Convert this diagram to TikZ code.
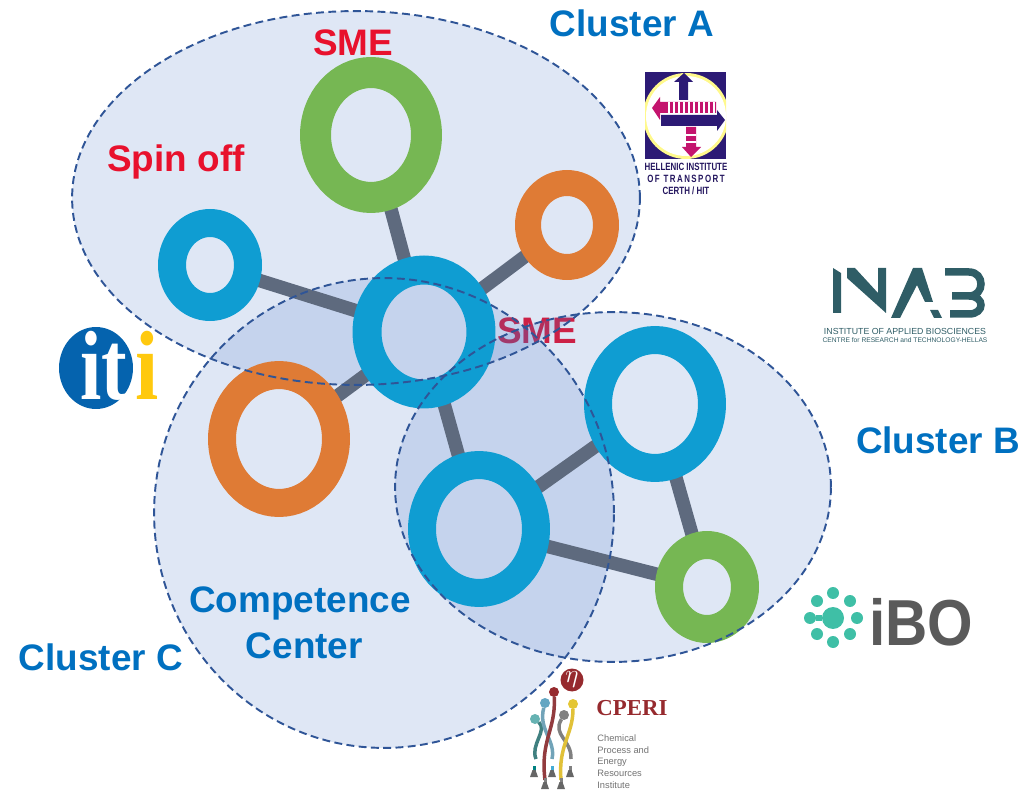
\documentclass[tikz,border=0pt]{standalone}
\usepackage{fontspec}
\setmainfont{Liberation Sans}
\newfontfamily\serifname{Liberation Serif}
\usetikzlibrary{shapes.geometric,backgrounds}

\definecolor{labelblue}{HTML}{0070C0}
\definecolor{labelred}{HTML}{E8112D}
\definecolor{bubbleblue}{HTML}{4472C4}
\definecolor{bubbleline}{HTML}{2F5597}
\definecolor{ringblue}{HTML}{0F9DD2}
\definecolor{ringgreen}{HTML}{76B753}
\definecolor{ringorange}{HTML}{DF7B35}
\definecolor{linkgray}{HTML}{5E6A7E}
\definecolor{hitpurple}{HTML}{2C1A75}
\definecolor{hitpink}{HTML}{C4146E}
\definecolor{inabteal}{HTML}{2F5D66}
\definecolor{ibogreen}{HTML}{3FBFA6}
\definecolor{ibogray}{HTML}{5A5A5A}
\definecolor{cperired}{HTML}{962A2E}
\definecolor{itiblue}{HTML}{0563AE}
\definecolor{itiyellow}{HTML}{FFC90E}

\tikzset{
	ring/.style={ellipse, draw, inner sep=0pt, outer sep=0pt},
	bubble/.style={ellipse, inner sep=0pt, outer sep=0pt},
	biglabel/.style={font=\fontsize{21}{25}\selectfont\bfseries, text=labelblue, inner sep=0pt},
	redlabel/.style={font=\fontsize{21}{25}\selectfont\bfseries, text=labelred, inner sep=0pt},
	link/.style={draw=linkgray, line width=0.27cm},
	dot/.style={circle, inner sep=0pt, outer sep=0pt},
	smalltext/.style={inner sep=0pt, transform shape},
	hittext/.style={smalltext, font=\fontsize{6}{7}\selectfont\bfseries, text=hitpurple!80!black},
	cperiline/.style={line width=0.07cm}
}

\begin{document}
\begin{tikzpicture}[x=0.02cm, y=-0.02cm]
	\useasboundingbox (0,0) rectangle (1028,790);

	% Rings of the network
	\foreach \name/\cx/\cy/\col/\rx/\ry/\wd in {
		greentop/371/135/ringgreen/55.5/62.5/31,
		orangeright/567/225/ringorange/39/42/26,
		blueleft/210/265/ringblue/38/42/28,
		bluecenter/424/332/ringblue/57/62/29,
		orangeleft/279/439/ringorange/57/64/28,
		bluelower/479/529/ringblue/57/64/28,
		blueright/655/404/ringblue/57/64/28,
		greenlower/707/587/ringgreen/38/42/28} {
			\node[ring, draw=\col, line width=\wd*0.02cm, minimum width=\rx*0.04cm, minimum height=\ry*0.04cm] (\name) at (\cx,\cy) {};
		}

	% Cluster fills and links go behind the rings
	\begin{scope}[on background layer]
		\node[redlabel] (smemiddle) at (537,331) {SME};
		\foreach \name/\cx/\cy/\rx/\ry in {clusterfilla/356/198/284/187, clusterfillb/613/487/218/175, clusterfillc/384/513/230/235} {
				\node[bubble, fill=bubbleblue, fill opacity=0.17, minimum width=\rx*0.04cm, minimum height=\ry*0.04cm] (\name) at (\cx,\cy) {};
			}
		\foreach \a/\b in {bluecenter/greentop, bluecenter/orangeright, bluecenter/blueleft, bluecenter/orangeleft, bluecenter/bluelower, bluelower/blueright, bluelower/greenlower, blueright/greenlower} {
				\draw[link] (\a) -- (\b);
			}
	\end{scope}

	% Dashed cluster outlines
	\foreach \name/\cx/\cy/\rx/\ry in {clustera/356/198/284/187, clusterb/613/487/218/175, clusterc/384/513/230/235} {
			\node[bubble, draw=bubbleline, line width=1.1pt, dash pattern=on 4.5pt off 2.5pt, minimum width=\rx*0.04cm, minimum height=\ry*0.04cm] (\name) at (\cx,\cy) {};
		}

	% Labels
	\node[biglabel] (labela) at (632,23) {Cluster A};
	\node[biglabel] (labelb) at (938,440) {Cluster B};
	\node[biglabel] (labelc) at (101,657) {Cluster C};
	\node[biglabel, align=center] (labelcenter) at (300,623) {Competence\\[1pt]\hspace*{5pt}Center};
	\node[redlabel] (smetop) at (353,43) {SME};
	\node[redlabel] (spinoff) at (176,162) {Spin off};

	% Logo of the transport institute
	\fill[hitpurple] (645,72) rectangle (726,159);
	\begin{scope}
		\clip (645,72) rectangle (726,159);
		\fill[yellow!45] (686,116) circle (43);
		\fill[white] (686,116) circle (40);
	\end{scope}
	\fill[hitpurple] (684,73) -- (693,82) -- (688,82) -- (688,100) -- (679,100) -- (679,82) -- (674,82) -- cycle;
	\fill[hitpink] (652,108) -- (660,97) -- (660,102) -- (716,102) -- (716,113) -- (660,113) -- (660,120) -- cycle;
	\foreach \x in {668,673,...,713} {
			\fill[white] (\x,102) rectangle (\x+2,113);
		}
	\fill[hitpurple] (661,115) -- (717,115) -- (717,110) -- (725,120) -- (717,131) -- (717,126) -- (661,126) -- cycle;
	\fill[hitpink] (686,127) -- (696,127) -- (696,147) -- (701,147) -- (691,157) -- (682,147) -- (686,147) -- cycle;
	\fill[white] (686,134) rectangle (696,136);
	\fill[white] (686,141) rectangle (696,143);
	\begin{scope}[xscale=0.75]
		\node[hittext] (hitone) at (686/0.75,167) {HELLENIC INSTITUTE};
		\node[hittext] (hittwo) at (686/0.75,179) {\addfontfeature{LetterSpace=19}OF TRANSPORT};
		\node[hittext] (hitthree) at (686/0.75,191) {CERTH / HIT};
	\end{scope}

	% Logo of the biosciences institute
	\fill[inabteal] (833,268) -- (841,273) -- (841,313) -- (833,313) -- cycle;
	\fill[inabteal] (847,268) -- (855,268) -- (878,293) -- (878,268) -- (886,268) -- (886,313) -- (847,278) -- cycle;
	\fill[inabteal] (891,318) -- (913,268) -- (922,268) -- (933,302) -- (925,302) -- (917,285) -- (900,318) -- cycle;
	\fill[inabteal] (930,310) -- (938,310) -- (942,318) -- (934,318) -- cycle;
	\draw[inabteal, line width=0.15cm] (945,272) -- (969,272) .. controls (985,272) and (985,296) .. (969,296) -- (952,296);
	\draw[inabteal, line width=0.15cm] (969,296) .. controls (985,296) and (985,314) .. (969,314) -- (950,314);
	\node[inner sep=0pt, font=\fontsize{5}{6}\selectfont, text=inabteal] (inabone) at (905,331) {INSTITUTE OF APPLIED BIOSCIENCES};
	\node[inner sep=0pt, font=\fontsize{3.8}{5}\selectfont, text=inabteal] (inabtwo) at (905,340) {CENTRE for RESEARCH and TECHNOLOGY-HELLAS};

	% Logo of the iBO institute
	\node[dot, fill=ibogreen, minimum size=0.44cm] (ibohub) at (833,618) {};
	\foreach \name/\cx/\cy in {iboa/810/618, ibob/857/618, iboc/833/593, ibod/833/642, iboe/817/601, ibof/850/601, ibog/817/634, iboh/850/634} {
			\node[dot, fill=ibogreen, minimum size=0.24cm] (\name) at (\cx,\cy) {};
		}
	\draw[ibogreen, line width=0.12cm] (iboa) -- (ibohub);
	\node[smalltext, xscale=0.9, anchor=base west, font=\fontsize{37}{40}\selectfont\bfseries, text=ibogray] (ibotext) at (869,645) {iBO};

	% Logo of the chemical process institute
	\node[dot, fill=cperired, minimum size=0.46cm, text=white, font=\Large] (cperieta) at (572,680) {$\eta$};
	\foreach \name/\cx/\cy/\col in {headred/554/692/cperired, headblue/545/703/cyan!50!gray, headteal/535/719/teal!60!white, headgray/564/715/gray, headgold/573/704/yellow!55!brown} {
			\node[dot, fill=\col, minimum size=0.2cm] (\name) at (\cx,\cy) {};
		}
	\coordinate (footteal) at (536,759);
	\coordinate (footblue) at (552,759);
	\coordinate (footgray) at (571,759);
	\coordinate (footred) at (545,780);
	\coordinate (footgold) at (561,780);
	\draw[cperiline, teal!50!gray] (headteal) .. controls (548,730) and (530,745) .. (footteal);
	\draw[cperiline, cyan!40!gray] (headblue) .. controls (538,730) and (556,740) .. (footblue);
	\draw[cperiline, gray] (headgray) .. controls (552,735) and (572,740) .. (footgray);
	\draw[cperiline, cperired!80!gray] (headred) .. controls (556,730) and (540,740) .. (footred);
	\draw[cperiline, yellow!50!brown] (headgold) .. controls (573,735) and (558,745) .. (footgold);
	\foreach \cx/\cy/\col in {534/773/teal, 552/773/cyan!70!gray, 570/773/gray, 545/785/gray, 561/785/gray} {
			\fill[\col] (\cx-1.5,\cy-7) rectangle (\cx+1.5,\cy-2);
			\fill[gray!80!black] (\cx-1.5,\cy-3) -- (\cx+1.5,\cy-3) -- (\cx+4,\cy+4) -- (\cx-4,\cy+4) -- cycle;
		}
	\node[anchor=west, inner sep=0pt, font=\fontsize{13}{15}\selectfont\bfseries\serifname, text=cperired] (cperiname) at (596,708) {CPERI};
	\node[anchor=north west, inner sep=0pt, align=left, font=\fontsize{5.3}{6.8}\selectfont, text=gray!90!black] (cperitext) at (597,734) {Chemical\\Process and\\Energy\\Resources\\Institute};

	% Logo of the informatics institute
	\node[bubble, fill=itiblue, minimum width=1.48cm, minimum height=1.64cm] (itidisc) at (96,368) {};
	\node[smalltext, xscale=0.78, anchor=base, font=\fontsize{56}{60}\selectfont\bfseries\serifname, text=white] (itiname) at (104,400) {it};
	\node[smalltext, xscale=0.85, anchor=base, font=\fontsize{56}{60}\selectfont\bfseries\serifname, text=itiyellow] (itiletter) at (147,400) {i};
\end{tikzpicture}
\end{document}
